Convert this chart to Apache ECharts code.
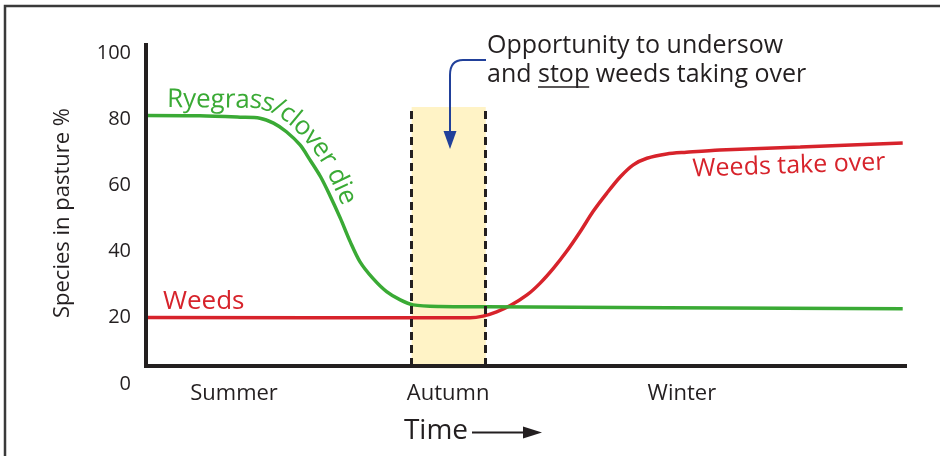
<!DOCTYPE html>
<html>
<head>
<meta charset="utf-8">
<script src="https://cdn.jsdelivr.net/npm/echarts@6/dist/echarts.min.js"></script>
<style>html,body{margin:0;padding:0;background:#fff;}#c{width:940px;height:456px;}</style>
</head>
<body>
<div id="c"></div>
<script>
// ---- data ----
const greenX = [0, 7.1, 12.4, 15.0, 16.8, 18.5, 20.3, 21.6, 23.0, 24.2, 25.6, 26.9, 28.2, 29.9, 31.7, 33.5, 35.2, 38.7, 44.9, 99.7];
const greenY = [81.1, 81.0, 80.6, 80.3, 78.8, 76.2, 72.2, 67.7, 62.6, 57.1, 50.1, 43.0, 36.9, 31.9, 27.9, 25.4, 23.9, 23.4, 23.3, 22.7];
const redX = [0, 38.7, 42.7, 44.4, 46.2, 48.0, 50.2, 51.9, 53.7, 55.4, 57.2, 58.9, 60.7, 62.5, 64.2, 66.0, 68.6, 71.2, 75.6, 86.2, 99.7];
const redY = [20.1, 20.0, 20.0, 20.5, 21.8, 23.7, 26.9, 30.4, 35.0, 40.0, 46.0, 52.1, 57.6, 62.6, 66.2, 68.2, 69.5, 70.0, 70.7, 71.6, 72.8];
const seasons = ['Summer', 'Autumn', 'Winter'];
const seasonX = [11.6, 39.8, 70.6];
const yTicks = [0, 20, 40, 60, 80, 100];
const bandX = [35.0, 44.76];
const bandTop = 83.7;
const axisBase = 5.4;
const axisTop = 102.4;

const INK = '#231f20';
const GREEN = '#3aaa35';
const RED = '#d7232b';
const BLUE = '#21409a';
const FONT = '"Open Sans", sans-serif';

const zip = (xs, ys) => xs.map((x, i) => [x, ys[i]]);

const chart = echarts.init(document.getElementById('c'), null, {renderer: 'canvas'});

// curved label: glyph centres placed along a midline path
function curvedText(text, pts, size, color) {
  const ctx = document.createElement('canvas').getContext('2d');
  ctx.font = size + 'px ' + FONT;
  const segs = [];
  let total = 0;
  for (let i = 1; i < pts.length; i++) {
    const dx = pts[i][0] - pts[i-1][0], dy = pts[i][1] - pts[i-1][1];
    const len = Math.hypot(dx, dy);
    segs.push({x: pts[i-1][0], y: pts[i-1][1], dx: dx / len, dy: dy / len, len, start: total});
    total += len;
  }
  function at(s) {
    let seg = segs[segs.length - 1];
    if (s < 0) seg = segs[0];
    else for (const g of segs) { if (s <= g.start + g.len) { seg = g; break; } }
    const t = s - seg.start;
    return {x: seg.x + seg.dx * t, y: seg.y + seg.dy * t};
  }
  const out = [];
  let s = 0;
  for (const ch of text) {
    const w = ctx.measureText(ch).width;
    const a = at(s - 3), b = at(s + w + 3);
    const m = at(s + w / 2);
    if (ch !== ' ') {
      out.push({
        type: 'text', x: m.x, y: m.y, rotation: -Math.atan2(b.y - a.y, b.x - a.x), z: 20, silent: true,
        style: {text: ch, font: size + 'px ' + FONT, fill: color, align: 'center', verticalAlign: 'middle'}
      });
    }
    s += w;
  }
  return out;
}

const titleFont = '25px ' + FONT;
const mctx = document.createElement('canvas').getContext('2d');
mctx.font = titleFont;
const stopX0 = 487 + mctx.measureText('and ').width;
const stopX1 = stopX0 + mctx.measureText('stop').width;

const ryeMid = [[167,99.5],[258,100.5],[274,105],[288,114],[300,124],[310,135],[320,147],[328,159],[335,172],[341,185],[347,198],[352,212]];

const graphics = [
  {type: 'rect', shape: {x: 5, y: 6, width: 1000, height: 1000}, style: {fill: 'none', stroke: '#3a3a3a', lineWidth: 2.5}},
  {type: 'text', x: 487, y: 46, style: {text: 'Opportunity to undersow', font: titleFont, fill: INK, align: 'left', verticalAlign: 'middle'}},
  {type: 'text', x: 487, y: 75, style: {text: 'and stop weeds taking over', font: titleFont, fill: INK, align: 'left', verticalAlign: 'middle'}},
  {type: 'line', shape: {x1: stopX0, y1: 87, x2: stopX1, y2: 87}, style: {stroke: INK, lineWidth: 1.5}},
  {type: 'line', shape: {x1: 486, y1: 60, x2: 463, y2: 60}, style: {stroke: BLUE, lineWidth: 2}},
  {type: 'bezierCurve', shape: {x1: 463, y1: 60, cpx1: 450, cpy1: 60, x2: 450, y2: 75}, style: {fill: 'none', stroke: BLUE, lineWidth: 2}},
  {type: 'line', shape: {x1: 450, y1: 75, x2: 450, y2: 133}, style: {stroke: BLUE, lineWidth: 2}},
  {type: 'polygon', shape: {points: [[443.5,131],[456.5,131],[450,149]]}, style: {fill: BLUE}},
  {type: 'text', x: 63, y: 213, rotation: Math.PI / 2, style: {text: 'Species in pasture %', font: '22px ' + FONT, fill: INK, align: 'center', verticalAlign: 'middle'}},
  {type: 'text', x: 436, y: 431, style: {text: 'Time', font: '28px ' + FONT, fill: INK, align: 'center', verticalAlign: 'middle'}},
  {type: 'line', shape: {x1: 472, y1: 432.5, x2: 526, y2: 432.5}, style: {stroke: INK, lineWidth: 2}},
  {type: 'polygon', shape: {points: [[523,426.5],[542,432.5],[523,438.5]]}, style: {fill: INK}},
  {type: 'text', x: 163, y: 302, style: {text: 'Weeds', font: '26px ' + FONT, fill: RED, align: 'left', verticalAlign: 'middle'}},
  {type: 'text', x: 789, y: 166, rotation: 2 * Math.PI / 180, style: {text: 'Weeds take over', font: '25px ' + FONT, fill: RED, align: 'center', verticalAlign: 'middle'}}
].map(g => Object.assign({z: 20, silent: true}, g))
 .concat(curvedText('Ryegrass/clover die', ryeMid, 26, GREEN));

const seg = (x1, y1, x2, y2, style) => [{coord: [x1, y1], lineStyle: style}, {coord: [x2, y2]}];
const axisStyle = {color: INK, width: 4, type: 'solid', cap: 'square'};
const dashStyle = {color: INK, width: 3, type: [8, 5]};

const option = {
  animation: false,
  textStyle: {fontFamily: FONT},
  grid: {left: 146, right: 35, top: 45, bottom: 72, outerBoundsMode: 'none'},
  xAxis: {
    type: 'value', min: 0, max: 100,
    axisLine: {show: false}, axisTick: {show: false}, splitLine: {show: false},
    axisLabel: {
      customValues: seasonX, margin: -1, fontSize: 22, color: INK, fontFamily: FONT,
      formatter: v => {
        let best = 0;
        seasonX.forEach((s, i) => { if (Math.abs(s - v) < Math.abs(seasonX[best] - v)) best = i; });
        return seasons[best];
      }
    }
  },
  yAxis: {
    type: 'value', min: 0, max: axisTop,
    axisLine: {show: false}, axisTick: {show: false}, splitLine: {show: false},
    axisLabel: {customValues: yTicks, margin: 15, fontSize: 20, color: INK, fontFamily: FONT}
  },
  series: [
    {
      name: 'band', type: 'line', data: [], z: 1, clip: false, silent: true,
      markArea: {silent: true, itemStyle: {color: '#fff3c6'}, data: [[{coord: [bandX[0], axisBase]}, {coord: [bandX[1], bandTop]}]]}
    },
    {
      name: 'Weeds', type: 'line', data: zip(redX, redY), z: 3, smooth: 0.3,
      showSymbol: false, symbol: 'none', lineStyle: {color: RED, width: 3.5}, itemStyle: {color: RED}
    },
    {
      name: 'Ryegrass/clover', type: 'line', data: zip(greenX, greenY), z: 4, smooth: 0.3,
      showSymbol: false, symbol: 'none', lineStyle: {color: GREEN, width: 3.5}, itemStyle: {color: GREEN}
    },
    {
      name: 'frame', type: 'line', data: [], z: 6, clip: false, silent: true,
      markLine: {
        silent: true, symbol: ['none', 'none'], label: {show: false},
        data: [
          seg(bandX[0], axisBase, bandX[0], bandTop, dashStyle),
          seg(bandX[1], axisBase, bandX[1], bandTop, dashStyle),
          seg(0, axisBase, 0, axisTop, axisStyle),
          seg(0, axisBase, 100, axisBase, axisStyle)
        ]
      }
    }
  ],
  graphic: graphics
};
chart.setOption(option);
</script>
</body>
</html>
